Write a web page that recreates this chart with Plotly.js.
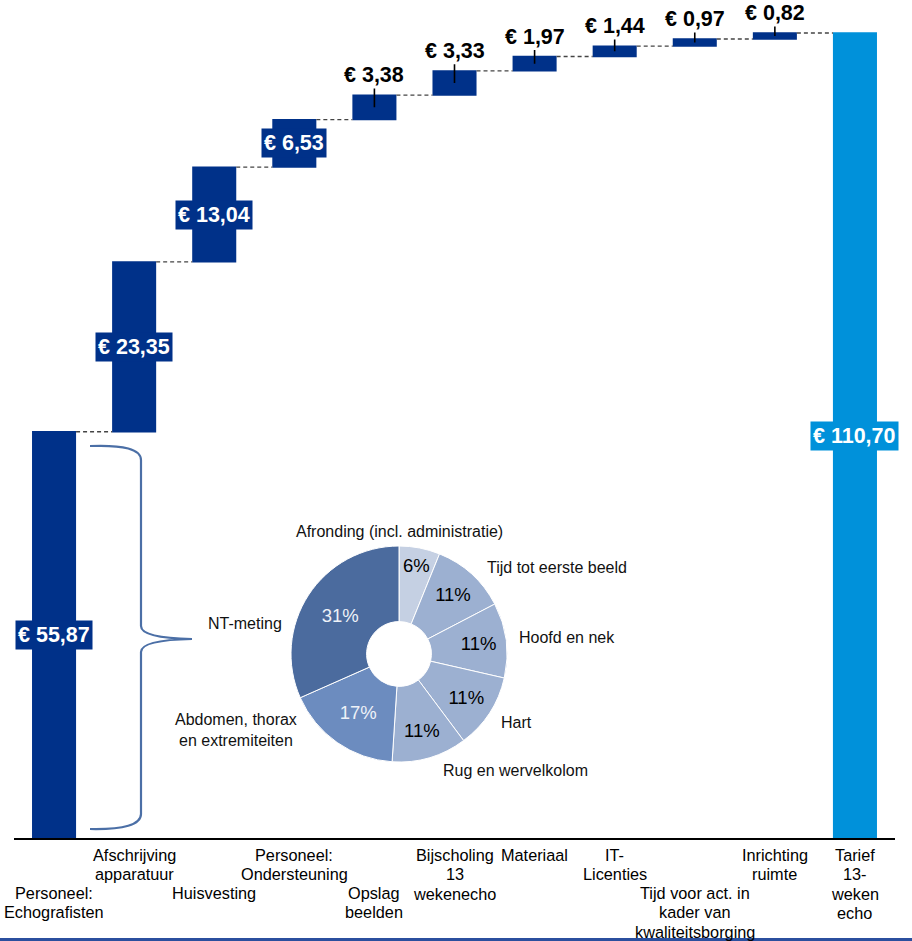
<!DOCTYPE html>
<html>
<head>
<meta charset="utf-8">
<script src="https://cdn.plot.ly/plotly-3.0.1.min.js"></script>
<style>html,body{margin:0;padding:0;background:#fff;}#chart{width:912px;height:941px;}</style>
</head>
<body>
<div id="chart"></div>
<script>
// ---- Data ----
const categories = [
  'Personeel: Echografisten', 'Afschrijving apparatuur', 'Huisvesting',
  'Personeel: Ondersteuning', 'Opslag beelden', 'Bijscholing 13 wekenecho',
  'Materiaal', 'IT-Licenties', 'Tijd voor act. in kader van kwaliteitsborging',
  'Inrichting ruimte', 'Tarief 13-weken echo'
];
const tickLines = [
  ['Personeel:', 'Echografisten'], ['Afschrijving', 'apparatuur'], ['Huisvesting'],
  ['Personeel:', 'Ondersteuning'], ['Opslag', 'beelden'], ['Bijscholing', '13', 'wekenecho'],
  ['Materiaal'], ['IT-', 'Licenties'], ['Tijd voor act. in', 'kader van', 'kwaliteitsborging'],
  ['Inrichting', 'ruimte'], ['Tarief', '13-', 'weken', 'echo']
];
const tickLevel = [1, 0, 1, 0, 1, 0, 0, 0, 1, 0, 0];
const costValues = [55.87, 23.35, 13.04, 6.53, 3.38, 3.33, 1.97, 1.44, 0.97, 0.82, 110.70];
const measures = ['relative','relative','relative','relative','relative','relative','relative','relative','relative','relative','total'];
const valueLabels = ['€ 55,87','€ 23,35','€ 13,04','€ 6,53','€ 3,38','€ 3,33','€ 1,97','€ 1,44','€ 0,97','€ 0,82','€ 110,70'];
const labelInside = [true, true, true, true, false, false, false, false, false, false, true];

const pieNames = ['Afronding (incl. administratie)', 'Tijd tot eerste beeld', 'Hoofd en nek', 'Hart',
  'Rug en wervelkolom', 'Abdomen, thorax en extremiteiten', 'NT-meting'];
const piePercent = [6, 11, 11, 11, 11, 17, 31];

// ---- Styles ----
const NAVY = '#003189';
const LIGHTBLUE = '#0091da';
const FONT = '"Liberation Sans", Arial, sans-serif';
const pieColors = ['#c5d0e3', '#9cb0d1', '#9cb0d1', '#9cb0d1', '#9cb0d1', '#6c8cbf', '#4b6b9e'];
const pieTextColors = ['#000', '#000', '#000', '#000', '#000', '#eef2f8', '#eef2f8'];

// geometry helpers (plot area in pixels)
const W = 912, H = 941, ML = 14, MR = 17, MT = 0, MB = 103;
const PW = W - ML - MR, PH = H - MT - MB;
const YMAX = 115.24;
const px2x = p => (p - ML) / PW;
const py2y = p => (H - MB - p) / PH;
const unitPerPx = YMAX / PH;

const traces = [];
traces.push({
  type: 'waterfall',
  x: categories,
  y: costValues,
  measure: measures,
  increasing: { marker: { color: NAVY } },
  totals: { marker: { color: LIGHTBLUE } },
  connector: { line: { color: '#444', width: 1.3, dash: '4px,3px' } },
  hoverinfo: 'skip',
  showlegend: false
});

traces.push({
  type: 'pie',
  values: piePercent,
  labels: pieNames,
  text: piePercent.map(v => v + '%'),
  textinfo: 'text',
  textposition: 'inside',
  insidetextorientation: 'horizontal',
  textfont: { family: FONT, size: 18.5, color: pieTextColors },
  hole: 0.3,
  sort: false,
  direction: 'clockwise',
  rotation: 0,
  marker: { colors: pieColors, line: { color: '#ffffff', width: 1 } },
  domain: { x: [px2x(291), px2x(507)], y: [py2y(762), py2y(546)] },
  showlegend: false,
  hoverinfo: 'skip'
});

const annotations = [];
// category labels
tickLines.forEach((lines, i) => {
  lines.forEach((ln, j) => {
    annotations.push({
      xref: 'x', yref: 'paper', x: i, y: 0,
      text: ln, showarrow: false, yanchor: 'middle', xanchor: 'center',
      yshift: -(17 + tickLevel[i] * 38 + j * 19.3),
      font: { family: FONT, size: 16.3, color: '#000' }
    });
  });
});

// value labels
let running = 0;
costValues.forEach((v, i) => {
  let base, top;
  if (measures[i] === 'total') { base = 0; top = running; }
  else { base = running; top = running + v; running = top; }
  const mid = (base + top) / 2;
  if (labelInside[i]) {
    annotations.push({
      xref: 'x', yref: 'y', x: i, y: mid,
      text: valueLabels[i], showarrow: false,
      bgcolor: measures[i] === 'total' ? LIGHTBLUE : NAVY, borderpad: 2,
      font: { family: FONT, size: 21.5, color: '#fff', weight: 'bold' }
    });
  } else {
    annotations.push({
      xref: 'x', yref: 'y', x: i, y: mid,
      axref: 'pixel', ax: 0, ayref: 'y', ay: top + 20 * unitPerPx,
      text: valueLabels[i], showarrow: true, arrowhead: 0, arrowwidth: 1.6,
      arrowcolor: '#000', standoff: 0, startstandoff: 0,
      font: { family: FONT, size: 21.5, color: '#000', weight: 'bold' }
    });
  }
});

// pie names
const pieLabelPos = [
  { x: 399, y: 531, anchor: 'center' },
  { x: 485, y: 567, anchor: 'left' },
  { x: 517, y: 637, anchor: 'left' },
  { x: 499, y: 722, anchor: 'left' },
  { x: 441, y: 770, anchor: 'left' },
  { x: 236, y: 730, anchor: 'center' },
  { x: 284, y: 623, anchor: 'right' }
];
const pieNameText = pieNames.slice();
pieNameText[5] = 'Abdomen, thorax<br>en extremiteiten';
pieLabelPos.forEach((p, i) => {
  annotations.push({
    xref: 'paper', yref: 'paper', x: px2x(p.x), y: py2y(p.y),
    text: pieNameText[i], showarrow: false, xanchor: p.anchor, yanchor: 'middle', align: 'center',
    font: { family: FONT, size: 16, color: '#111' }
  });
});

// brace path (paper coords)
function P(x, y) { return px2x(x).toFixed(5) + ',' + py2y(y).toFixed(5); }
const bracePath = 'M ' + P(90, 446) + ' Q ' + P(141, 444) + ' ' + P(141, 460) +
  ' L ' + P(141, 626) + ' Q ' + P(141, 638) + ' ' + P(192, 639) +
  ' Q ' + P(141, 640) + ' ' + P(141, 652) +
  ' L ' + P(141, 814) + ' Q ' + P(141, 830) + ' ' + P(90, 829);

const shapes = [
  { type: 'path', xref: 'paper', yref: 'paper', path: bracePath,
    line: { color: '#4b6fa6', width: 2.2 } },
  { type: 'line', xref: 'paper', yref: 'paper', x0: px2x(0), x1: px2x(912), y0: py2y(939.5), y1: py2y(939.5),
    line: { color: '#2b4f9e', width: 3 } }
];

const layout = {
  width: W, height: H,
  margin: { l: ML, r: MR, t: MT, b: MB, pad: 0 },
  paper_bgcolor: '#fff', plot_bgcolor: 'rgba(0,0,0,0)',
  font: { family: FONT, size: 14, color: '#000' },
  waterfallgap: 0.45,
  showlegend: false,
  xaxis: { type: 'category', range: [-0.5, categories.length - 0.5], autorange: false,
           showline: true, linecolor: '#000', linewidth: 2, ticks: '', showticklabels: false,
           showgrid: false, zeroline: false, fixedrange: true },
  yaxis: { range: [0, YMAX], autorange: false, visible: false, showgrid: false, zeroline: false, fixedrange: true },
  annotations: annotations,
  shapes: shapes
};

Plotly.newPlot('chart', traces, layout, { displayModeBar: false, staticPlot: true });
</script>
</body>
</html>
